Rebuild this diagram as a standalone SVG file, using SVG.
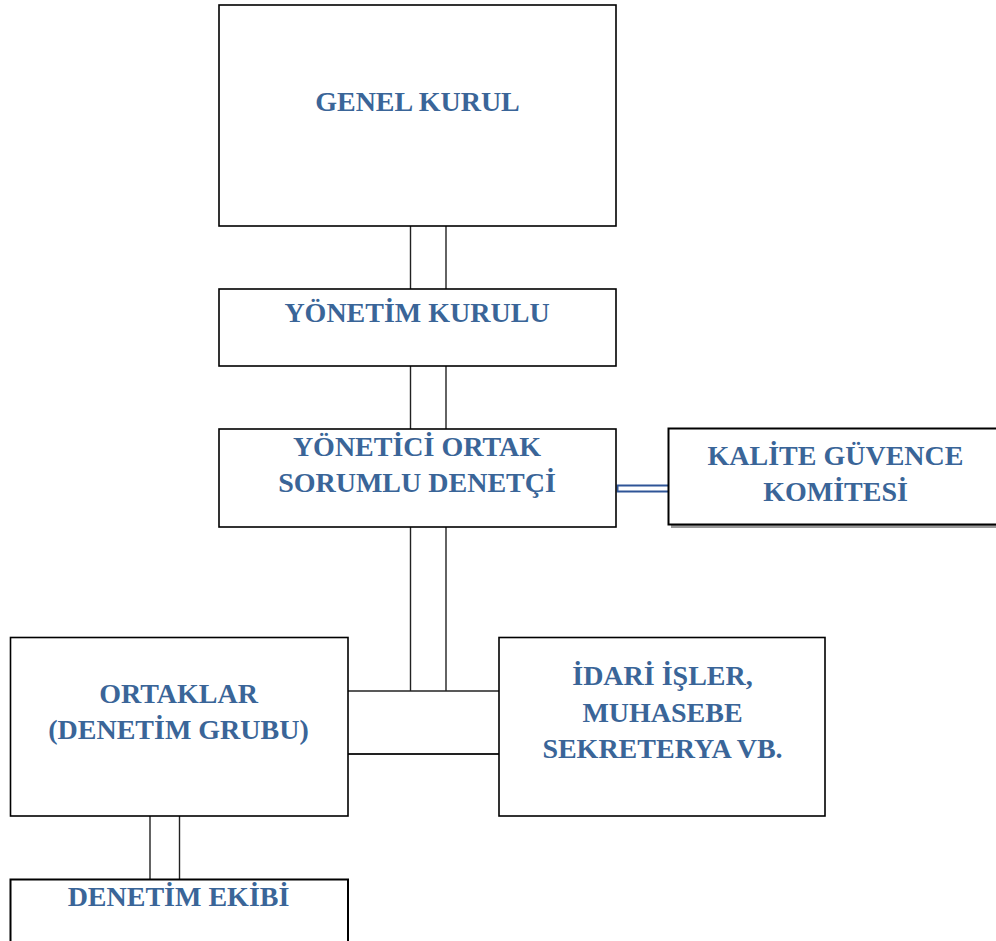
<svg xmlns="http://www.w3.org/2000/svg" width="996" height="941" viewBox="0 0 996 941">
<style>
.box{fill:#fff;stroke:#000;stroke-width:1.6}
.ln{stroke:#222;stroke-width:1.4;fill:none}
.t{font-family:"Liberation Serif","Times New Roman",serif;font-weight:bold;font-size:28px;fill:#3A6598;text-anchor:middle}
</style>
<rect width="996" height="941" fill="#fff"/>
<g id="connectors">
<line class="ln" x1="410.5" y1="226" x2="410.5" y2="289"/>
<line class="ln" x1="446" y1="226" x2="446" y2="289"/>
<line class="ln" x1="410.5" y1="366" x2="410.5" y2="429"/>
<line class="ln" x1="446" y1="366" x2="446" y2="429"/>
<line class="ln" x1="410.5" y1="527" x2="410.5" y2="691"/>
<line class="ln" x1="446" y1="527" x2="446" y2="691"/>
<line class="ln" x1="348" y1="691" x2="499" y2="691"/>
<line class="ln" x1="348" y1="754" x2="499" y2="754" style="stroke-width:1.8"/>
<line class="ln" x1="150" y1="816" x2="150" y2="879"/>
<line class="ln" x1="179.5" y1="816" x2="179.5" y2="879"/>
<rect x="617.5" y="485.5" width="54" height="6" fill="#fff" stroke="#2F5597" stroke-width="2"/>
</g>
<g id="genel-kurul">
<rect class="box" x="219" y="5" width="397" height="221"/>
<text class="t" x="417.5" y="111">GENEL KURUL</text>
</g>
<g id="yonetim-kurulu">
<rect class="box" x="219" y="289" width="397" height="77"/>
<text class="t" x="417" y="322">YÖNETİM KURULU</text>
</g>
<g id="yonetici-ortak">
<rect class="box" x="219" y="429" width="397" height="98"/>
<text class="t" x="417" y="456">YÖNETİCİ ORTAK</text>
<text class="t" x="417" y="492">SORUMLU DENETÇİ</text>
</g>
<g id="kalite-guvence">
<rect x="671" y="431" width="330" height="97" fill="#999"/>
<rect class="box" x="668.5" y="428.5" width="330" height="96" style="stroke-width:2"/>
<text class="t" x="835.5" y="465">KALİTE GÜVENCE</text>
<text class="t" x="835.5" y="501">KOMİTESİ</text>
</g>
<g id="ortaklar">
<rect class="box" x="10.5" y="637.5" width="337.5" height="178.5"/>
<text class="t" x="178.5" y="703">ORTAKLAR</text>
<text class="t" x="178.5" y="739">(DENETİM GRUBU)</text>
</g>
<g id="idari-isler">
<rect class="box" x="499" y="637.5" width="326" height="178.5"/>
<text class="t" x="662.5" y="685">İDARİ İŞLER,</text>
<text class="t" x="662.5" y="721.5">MUHASEBE</text>
<text class="t" x="662.5" y="757.5">SEKRETERYA VB.</text>
</g>
<g id="denetim-ekibi">
<rect class="box" x="10.5" y="879.5" width="337.5" height="80" style="stroke-width:2"/>
<text class="t" x="178.5" y="906">DENETİM EKİBİ</text>
</g>
</svg>
